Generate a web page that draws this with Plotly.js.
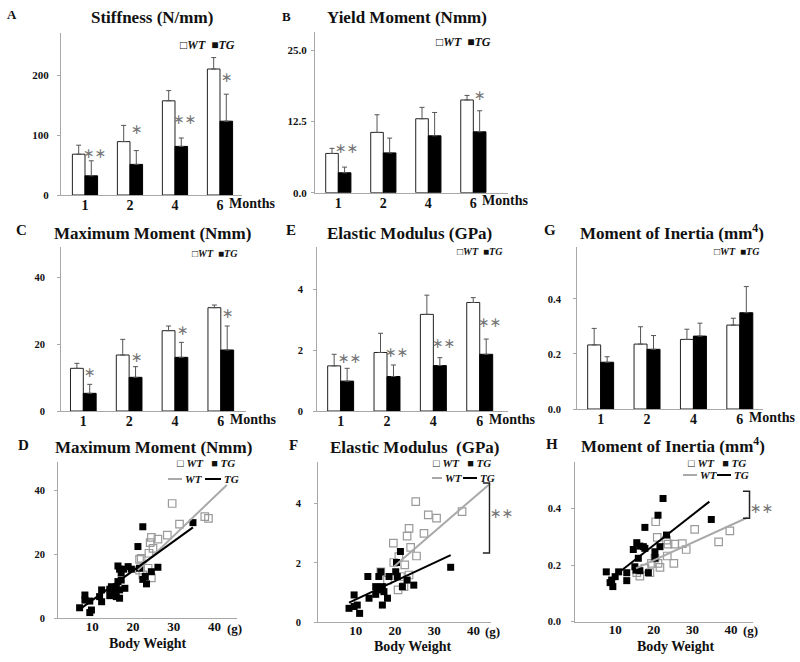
<!DOCTYPE html>
<html><head><meta charset="utf-8">
<script src="https://cdn.plot.ly/plotly-3.0.1.min.js"></script>
<style>html,body{margin:0;padding:0;background:#fff}#chart{width:800px;height:662px}</style>
</head><body><div id="chart"></div>
<script>
// ---------- data ----------
const months = ["1","2","4","6"];
const bodyWeightTicks = [10,20,30,40];

const stiffWT = [68, 89, 157, 210];
const stiffWTerr = [15, 27, 17, 19];
const stiffTG = [32, 51, 81, 123];
const stiffTGerr = [25, 23, 14, 45];

const yieldWT = [6.9, 10.6, 13.0, 16.3];
const yieldWTerr = [0.9, 3.1, 2.0, 0.8];
const yieldTG = [3.5, 7.0, 10.0, 10.7];
const yieldTGerr = [1.0, 2.6, 4.1, 3.7];

const maxWT = [12.8, 16.8, 24.1, 31.0];
const maxWTerr = [1.5, 4.7, 1.4, 0.8];
const maxTG = [5.3, 10.1, 16.1, 18.3];
const maxTGerr = [2.7, 3.2, 4.5, 7.2];

const elasWT = [1.48, 1.92, 3.17, 3.56];
const elasWTerr = [0.38, 0.63, 0.63, 0.16];
const elasTG = [0.98, 1.13, 1.49, 1.86];
const elasTGerr = [0.42, 0.38, 0.26, 0.50];

const inerWT = [0.233, 0.236, 0.253, 0.305];
const inerWTerr = [0.060, 0.063, 0.037, 0.025];
const inerTG = [0.170, 0.217, 0.265, 0.350];
const inerTGerr = [0.020, 0.050, 0.047, 0.095];

// D: maximum moment vs body weight
const mmWTx = [29.6, 31.4, 37.6, 38.5, 28.4, 26.1, 24.5, 24.2, 24.9, 23.9, 22.0, 21.6, 24.5, 22.4, 21.6, 23.7];
const mmWTy = [36.0, 29.5, 31.9, 31.3, 26.1, 24.8, 25.4, 23.7, 21.9, 20.4, 18.8, 18.5, 12.7, 13.6, 15.1, 15.7];
const mmTGx = [34.7, 22.4, 21.2, 26.1, 24.5, 23.0, 23.3, 22.4, 21.6, 19.6, 18.8, 17.7, 16.7, 16.3, 17.1, 18.0, 16.7, 15.9, 15.5, 14.7, 16.3, 17.1, 15.9, 16.7, 14.3, 14.3, 12.3, 12.3, 11.8, 9.4, 8.2, 8.2, 6.9, 9.8, 9.4];
const mmTGy = [30.0, 28.7, 22.5, 16.0, 14.6, 13.1, 10.8, 12.2, 15.7, 15.4, 16.2, 15.4, 15.4, 16.4, 14.3, 9.4, 8.9, 9.9, 7.8, 9.9, 11.5, 12.0, 6.8, 6.3, 7.1, 9.1, 5.2, 8.9, 6.8, 5.4, 7.3, 5.7, 3.3, 2.6, 1.8];
const mmFitWTx = [21.2, 43.0], mmFitWTy = [15.1, 41.8];
const mmFitTGx = [6.9, 34.7], mmFitTGy = [2.8, 28.5];

// F: elastic modulus vs body weight
const elWTx = [25.3, 28.5, 30.6, 37.1, 23.6, 23.1, 27.4, 19.6, 24.0, 25.5, 22.5, 19.7, 21.0, 21.4, 23.6, 20.8, 22.3, 16.4, 18.1];
const elWTy = [4.06, 3.61, 3.50, 3.72, 3.16, 2.90, 2.99, 2.66, 2.52, 2.23, 1.93, 2.01, 2.21, 1.54, 1.59, 1.09, 1.20, 1.70, 1.42];
const elTGx = [34.2, 21.4, 20.4, 20.2, 20.6, 18.5, 15.9, 16.4, 13.1, 15.1, 15.9, 16.8, 17.2, 15.1, 18.1, 16.8, 13.4, 9.6, 10.4, 8.3, 9.6, 11.0, 21.9, 23.1, 24.8];
const elTGy = [1.85, 2.38, 2.01, 1.70, 1.54, 1.54, 1.54, 1.70, 1.54, 1.20, 1.09, 1.20, 1.03, 0.94, 0.81, 0.58, 0.81, 0.92, 0.58, 0.47, 0.53, 0.30, 1.20, 1.42, 1.25];
const elFitWTx = [19.7, 44.3], elFitWTy = [1.87, 4.67];
const elFitTGx = [8.3, 34.2], elFitTGy = [0.66, 2.26];

// H: moment of inertia vs body weight
const inWTx = [20.5, 20.9, 30.6, 39.7, 36.8, 23.3, 23.7, 25.4, 27.4, 28.4, 23.5, 25.2, 21.1, 21.6, 19.4, 19.0, 16.4, 15.6, 17.7, 20.3];
const inWTy = [0.353, 0.298, 0.326, 0.321, 0.282, 0.288, 0.274, 0.274, 0.276, 0.255, 0.232, 0.206, 0.206, 0.192, 0.206, 0.173, 0.161, 0.173, 0.188, 0.224];
const inTGx = [22.4, 21.1, 17.7, 34.9, 23.3, 21.6, 20.3, 20.3, 15.6, 16.4, 17.3, 14.7, 17.7, 16.0, 15.1, 15.4, 18.6, 16.4, 13.0, 13.0, 10.9, 10.0, 9.1, 9.4, 7.7, 8.7];
const inTGy = [0.435, 0.376, 0.333, 0.361, 0.306, 0.265, 0.247, 0.224, 0.279, 0.267, 0.265, 0.255, 0.259, 0.224, 0.194, 0.182, 0.173, 0.180, 0.173, 0.145, 0.176, 0.159, 0.147, 0.124, 0.176, 0.138];
const inFitWTx = [15.4, 44.3], inFitWTy = [0.188, 0.368];
const inFitTGx = [7.9, 34.4], inFitTGy = [0.141, 0.424];

// ---------- layout helpers ----------
const W = 800, H = 662;
const px = v => v / W;
const py = v => 1 - v / H;
const SERIF = '"Liberation Serif","Times New Roman",Times,serif';
const STARF = '"DejaVu Sans",sans-serif';
const STAR = '\u2217';
const AX = '#a8a8a8';
const GRAY = '#9a9a9a';

const layout = {
  width: W, height: H, margin: {l: 0, r: 0, t: 0, b: 0},
  showlegend: false, barmode: 'group', bargap: 0.44, bargroupgap: 0,
  paper_bgcolor: '#fff', plot_bgcolor: 'rgba(0,0,0,0)',
  font: {family: SERIF, color: '#111'},
  annotations: [], shapes: []
};
const data = [];

function names(n) { return n === 1 ? ['x', 'y', 'xaxis', 'yaxis'] : ['x' + n, 'y' + n, 'xaxis' + n, 'yaxis' + n]; }
function ann(o) { layout.annotations.push(Object.assign({showarrow: false}, o)); }
function label(xp, yp, text, size, extra) {
  ann(Object.assign({xref: 'paper', yref: 'paper', x: px(xp), y: py(yp), xanchor: 'center', yanchor: 'middle',
    text: text, font: {family: SERIF, size: size, weight: 700, color: '#111'}}, extra || {}));
}
function stars(n, list) {
  const [xs, ys] = names(n);
  list.forEach(s => ann({xref: xs, yref: ys, x: s[0], y: s[1], xanchor: 'center', yanchor: 'middle',
    text: s[2].replace(/\*/g, STAR), font: {family: STARF, size: 14, color: '#777'}}));
}

function barPanel(n, box, xr, yr, yticks, yfmt, wt, wtE, tg, tgE, yFont, yStand) {
  const [xs, ys, xk, yk] = names(n);
  const xi = months.map((m, i) => i);
  layout[xk] = {domain: [px(box[0]), px(box[1])], range: xr, anchor: ys, tickmode: 'array', tickvals: xi, ticktext: months,
    showline: true, linecolor: AX, linewidth: 1, ticks: '', showgrid: false, zeroline: false, ticklabelstandoff: -3,
    tickfont: {family: SERIF, size: 14, weight: 700, color: '#111'}};
  layout[yk] = {domain: [py(box[3]), py(box[2])], range: yr, anchor: xs, tickmode: 'array', tickvals: yticks, tickformat: yfmt,
    showline: true, linecolor: AX, linewidth: 1, ticks: 'outside', ticklen: 3, tickcolor: AX, showgrid: false, zeroline: false,
    ticklabelstandoff: yStand, tickfont: {family: SERIF, size: yFont, weight: 700, color: '#111'}};
  data.push({type: 'bar', name: 'WT', x: xi, y: wt, xaxis: xs, yaxis: ys, hoverinfo: 'skip',
    marker: {color: '#fff', line: {color: '#222', width: 1}},
    error_y: {type: 'data', symmetric: false, array: wtE, arrayminus: wt.map(() => 0), color: '#555', thickness: 1, width: 2.5}});
  data.push({type: 'bar', name: 'TG', x: xi, y: tg, xaxis: xs, yaxis: ys, hoverinfo: 'skip',
    marker: {color: '#000', line: {color: '#000', width: 1}},
    error_y: {type: 'data', symmetric: false, array: tgE, arrayminus: tg.map(() => 0), color: '#555', thickness: 1, width: 2.5}});
  ann({xref: xs, yref: 'paper', x: xi[xi.length - 1], y: py(box[3] + 8), xanchor: 'left', yanchor: 'middle', xshift: 7,
    text: 'Months', font: {family: SERIF, size: 14, weight: 700, color: '#111'}});
}

function scatterPanel(n, box, xr, yr, yticks, yfmt, yStand, wx, wy, tx, ty, fwx, fwy, ftx, fty, tickY) {
  const [xs, ys, xk, yk] = names(n);
  layout[xk] = {domain: [px(box[0]), px(box[1])], range: xr, anchor: ys, tickmode: 'array', tickvals: bodyWeightTicks,
    showline: true, linecolor: AX, linewidth: 1, ticks: '', showgrid: false, zeroline: false, ticklabelstandoff: -4,
    tickfont: {family: SERIF, size: 13, weight: 700, color: '#111'}};
  layout[yk] = {domain: [py(box[3]), py(box[2])], range: yr, anchor: xs, tickmode: 'array', tickvals: yticks, tickformat: yfmt,
    showline: true, linecolor: AX, linewidth: 1, ticks: 'outside', ticklen: 3, tickcolor: AX, showgrid: false, zeroline: false,
    ticklabelstandoff: yStand, tickfont: {family: SERIF, size: 10.5, weight: 700, color: '#111'}};
  data.push({type: 'scatter', mode: 'markers', name: 'WT', x: wx, y: wy, xaxis: xs, yaxis: ys, hoverinfo: 'skip', cliponaxis: false,
    marker: {symbol: 'square-open', size: 7.5, color: GRAY, line: {width: 1.2, color: GRAY}}});
  data.push({type: 'scatter', mode: 'markers', name: 'TG', x: tx, y: ty, xaxis: xs, yaxis: ys, hoverinfo: 'skip', cliponaxis: false,
    marker: {symbol: 'square', size: 7, color: '#000'}});
  data.push({type: 'scatter', mode: 'lines', name: 'WT fit', x: fwx, y: fwy, xaxis: xs, yaxis: ys, hoverinfo: 'skip',
    line: {color: '#a9a9a9', width: 2}});
  data.push({type: 'scatter', mode: 'lines', name: 'TG fit', x: ftx, y: fty, xaxis: xs, yaxis: ys, hoverinfo: 'skip',
    line: {color: '#000', width: 2}});
  ann({xref: xs, yref: 'paper', x: bodyWeightTicks[bodyWeightTicks.length - 1], y: py(tickY), xanchor: 'left', yanchor: 'middle', xshift: 10,
    text: '(g)', font: {family: SERIF, size: 13, weight: 700, color: '#111'}});
}

function barLegend(rightPx, yPx, size) {
  label(rightPx, yPx, '\u25A1<i>WT</i>\u00a0\u00a0\u25A0<i>TG</i>', size, {xanchor: 'right'});
}
function scatterLegend(rightPx, y1, y2, gl, wtL, bl, tgL) {
  label(rightPx, y1, '\u25A1\u00a0<i>WT</i>\u00a0\u00a0\u00a0\u25A0\u00a0<i>TG</i>', 11, {xanchor: 'right'});
  layout.shapes.push({type: 'line', xref: 'paper', yref: 'paper', x0: px(gl[0]), x1: px(gl[1]), y0: py(y2), y1: py(y2), line: {color: '#a9a9a9', width: 2}});
  layout.shapes.push({type: 'line', xref: 'paper', yref: 'paper', x0: px(bl[0]), x1: px(bl[1]), y0: py(y2), y1: py(y2), line: {color: '#000', width: 2}});
  label(wtL, y2, '<i>WT</i>', 11, {xanchor: 'left'});
  label(tgL, y2, '<i>TG</i>', 11, {xanchor: 'left'});
}
function bracket(n, x0, x1, yTop, yBot) {
  const [xs, ys] = names(n);
  layout.shapes.push({type: 'path', xref: xs, yref: ys,
    path: `M ${x0},${yTop} L ${x1},${yTop} L ${x1},${yBot} L ${x0},${yBot}`, line: {color: '#222', width: 1.5}});
}

// ---------- panels ----------
barPanel(1, [61, 242, 33, 195], [-0.533, 3.489], [0, 270], [0, 100, 200], 'd', stiffWT, stiffWTerr, stiffTG, stiffTGerr, 11, 6);
barPanel(2, [315, 508, 31.7, 192.7], [-0.518, 3.77], [0, 28.3], [0, 12.5, 25], '.1f', yieldWT, yieldWTerr, yieldTG, yieldTGerr, 11, 2);
barPanel(3, [61, 246, 246.7, 411], [-0.487, 3.55], [0, 49.3], [0, 20, 40], 'd', maxWT, maxWTerr, maxTG, maxTGerr, 10.5, 10);
barPanel(4, [317, 508, 246.7, 411], [-0.51, 3.61], [0, 5.39], [0, 2, 4], 'd', elasWT, elasWTerr, elasTG, elasTGerr, 10.5, 8);
barPanel(5, [577, 763, 246.7, 409], [-0.51, 3.50], [0, 0.59], [0, 0.2, 0.4], '.1f', inerWT, inerWTerr, inerTG, inerTGerr, 10.5, 10);

scatterPanel(6, [58, 237, 461.7, 618.3], [1.6, 45.5], [0, 49.1], [0, 20, 40], 'd', 7,
  mmWTx, mmWTy, mmTGx, mmTGy, mmFitWTx, mmFitWTy, mmFitTGx, mmFitTGy, 628);
scatterPanel(7, [318, 490.7, 461.7, 622.3], [0.4, 44.4], [0, 5.4], [0, 2, 4], 'd', 11,
  elWTx, elWTy, elTGx, elTGy, elFitWTx, elFitWTy, elFitTGx, elFitTGy, 631);
scatterPanel(8, [575, 753, 461.7, 621.7], [-0.4, 45.7], [0, 0.565], [0, 0.2, 0.4], '.1f', 8,
  inWTx, inWTy, inTGx, inTGy, inFitWTx, inFitWTy, inFitTGx, inFitTGy, 630);

// significance marks
stars(1, [[0.22, 70, '**'], [1.16, 110, '*'], [2.22, 127, '**'], [3.16, 197, '*']]);
stars(2, [[0.19, 7.8, '**'], [3.15, 17.2, '*']]);
stars(3, [[0.15, 11.7, '*'], [1.17, 16.2, '*'], [2.17, 24.3, '*'], [3.16, 29.4, '*']]);
stars(4, [[0.2, 1.74, '**'], [1.2, 1.93, '**'], [2.22, 2.23, '**'], [3.22, 2.92, '**']]);
bracket(7, 42.4, 44.1, 4.68, 2.33);
bracket(8, 43.1, 44.8, 0.461, 0.365);
ann({xref: 'paper', yref: 'paper', x: px(501), y: py(513), xanchor: 'center', yanchor: 'middle', text: STAR + STAR, font: {family: STARF, size: 14, color: '#777'}});
ann({xref: 'paper', yref: 'paper', x: px(761), y: py(508), xanchor: 'center', yanchor: 'middle', text: STAR + STAR, font: {family: STARF, size: 14, color: '#777'}});

// panel letters and titles
label(12, 14, 'A', 13); label(152, 18, 'Stiffness (N/mm)', 17);
label(286, 17, 'B', 13); label(407, 18, 'Yield Moment (Nmm)', 17);
label(21, 230, 'C', 15); label(152, 233, 'Maximum Moment (Nmm)', 17);
label(291, 230, 'E', 15); label(410, 233, 'Elastic Modulus (GPa)', 17);
label(550, 230, 'G', 15); label(672, 232, 'Moment of Inertia (mm<sup>4</sup>)', 17);
label(23, 445, 'D', 15); label(153, 447, 'Maximum Moment (Nmm)', 17);
label(293, 445, 'F', 15); label(415, 447, 'Elastic Modulus\u00a0 (GPa)', 17);
label(552, 444, 'H', 15); label(673, 445, 'Moment of Inertia (mm<sup>4</sup>)', 17);

// x titles of scatter panels
label(147, 643, 'Body Weight', 14);
label(412, 646, 'Body Weight', 14);
label(675, 646, 'Body Weight', 14);

// legends
barLegend(237, 45, 12);
barLegend(493, 42, 12);
barLegend(240, 253, 10);
barLegend(505, 252, 10);
barLegend(762, 252, 10);
scatterLegend(237, 463, 479, [168, 182], 183, [205, 221], 222);
scatterLegend(493, 463, 478, [432, 442], 443, [463, 477], 478);
scatterLegend(748, 463, 475, [683, 697], 698, [717, 731], 732);

Plotly.newPlot('chart', data, layout, {staticPlot: true, displayModeBar: false});
</script></body></html>
